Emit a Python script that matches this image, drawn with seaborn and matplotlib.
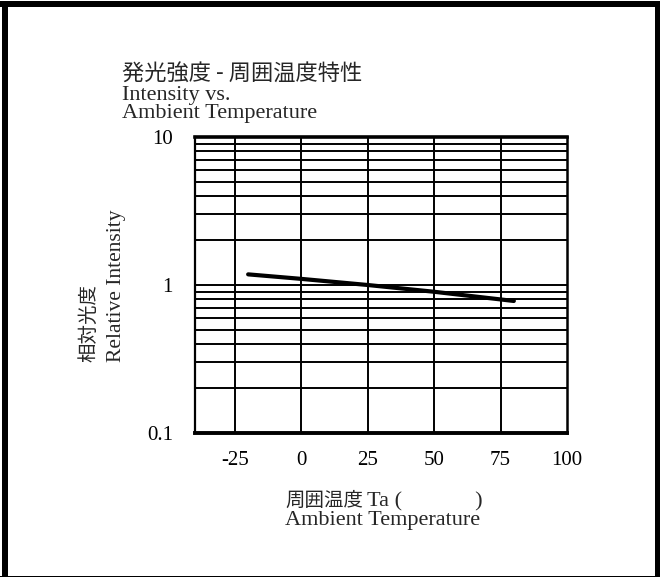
import matplotlib
matplotlib.use("Agg")
import matplotlib.pyplot as plt
import seaborn as sns
import pandas as pd
from matplotlib.patches import Rectangle
from matplotlib.ticker import FixedLocator, NullFormatter, FixedFormatter

# data
temps = [-20, 0, 25, 50, 80]
intensity = [1.18, 1.10, 1.00, 0.90, 0.78]
x_ticks = [-25, 0, 25, 50, 75, 100]
x_tick_labels = ["-25", "0", "25", "50", "75", "100"]
y_ticks = [0.1, 1, 10]
y_tick_labels = ["0.1", "1", "10"]

sns.set_theme(style="white")
plt.rcParams['font.family'] = ['Liberation Serif', 'Noto Sans CJK JP']

W, H = 660, 578
fig = plt.figure(figsize=(W / 100, H / 100), dpi=100)
ax = fig.add_axes([195 / W, 1 - 433 / H, (567 - 195) / W, (433 - 137) / H])

df = pd.DataFrame({"temp": temps, "rel": intensity})
sns.lineplot(data=df, x="temp", y="rel", ax=ax, color="black", linewidth=3.0)

ax.set_yscale("log")
ax.set_xlim(-40, 100)
ax.set_ylim(0.1, 10)

# grid
minor_y = [m * d for d in (0.1, 1) for m in range(2, 10)]
for v in minor_y + [1]:
    ax.axhline(v, color="black", linewidth=1.4, zorder=1)
for v in x_ticks[:-1]:
    ax.axvline(v, color="black", linewidth=1.4, zorder=1)

ax.xaxis.set_major_locator(FixedLocator(x_ticks))
ax.xaxis.set_major_formatter(FixedFormatter(x_tick_labels))
ax.yaxis.set_major_locator(FixedLocator(y_ticks))
ax.yaxis.set_major_formatter(FixedFormatter(y_tick_labels))
ax.yaxis.set_minor_formatter(NullFormatter())
ax.tick_params(axis="both", which="both", length=0, labelsize=15, colors="black")
ax.tick_params(axis="x", pad=13)
ax.tick_params(axis="y", pad=16)
ax.set_xlabel("")
ax.set_ylabel("")

for side, lw in (("left", 1.6), ("right", 1.8), ("top", 2.6), ("bottom", 2.8)):
    ax.spines[side].set_visible(True)
    ax.spines[side].set_color("black")
    ax.spines[side].set_linewidth(lw)

# titles
cjk = ['Noto Sans CJK JP', 'DejaVu Sans']
serif = ['Liberation Serif', 'Noto Sans CJK JP']
fig.text(122 / W, 1 - 81 / H, "発光強度 - 周囲温度特性", family=cjk, fontsize=16,
         va="baseline", ha="left")
fig.text(122 / W, 1 - 100 / H, "Intensity vs.", family=serif, fontsize=16,
         va="baseline", ha="left")
fig.text(122 / W, 1 - 118 / H, "Ambient Temperature", family=serif, fontsize=16,
         va="baseline", ha="left")

# y label
fig.text(89 / W, 1 - 362 / H, "相対光度", family=cjk, fontsize=14, rotation=90,
         va="bottom", ha="center")
fig.text(117 / W, 1 - 362 / H, "Relative Intensity", family=serif, fontsize=15.5,
         rotation=90, va="bottom", ha="center")

# x label
fig.text(285 / W, 1 - 506 / H, "周囲温度", family=cjk, fontsize=14,
         va="baseline", ha="left")
fig.text(367 / W, 1 - 506 / H, "Ta (             )", family=serif, fontsize=16,
         va="baseline", ha="left")
fig.text(285 / W, 1 - 525 / H, "Ambient Temperature", family=serif, fontsize=16,
         va="baseline", ha="left")

# outer frame
def px_rect(x0, y0, x1, y1):
    fig.patches.append(Rectangle((x0 / W, 1 - y1 / H), (x1 - x0) / W, (y1 - y0) / H,
                                 transform=fig.transFigure, facecolor="black",
                                 edgecolor="none", zorder=10))

px_rect(0, 1, 660, 7)
px_rect(2, 1, 8, 577)
px_rect(655, 1, 660, 577)
px_rect(0, 576, 660, 577)

fig.savefig("out.png", dpi=100, facecolor="white")
